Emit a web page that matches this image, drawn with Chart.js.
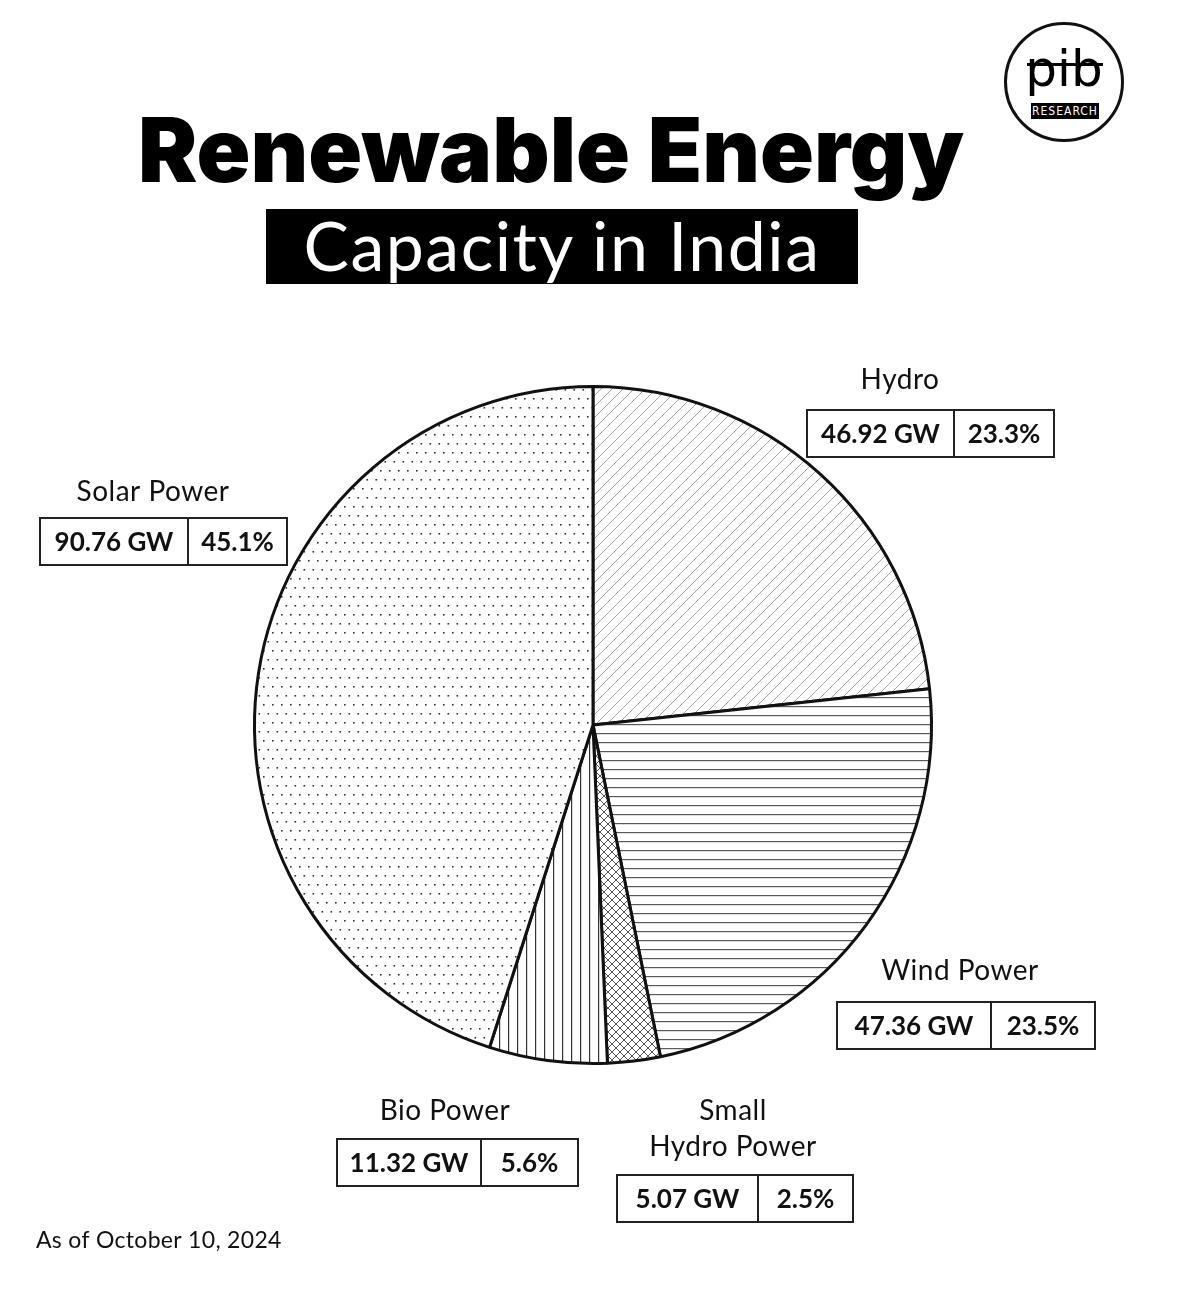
<!DOCTYPE html>
<html>
<head>
<meta charset="utf-8">
<script src="https://cdn.jsdelivr.net/npm/chart.js@4"></script>
<style>
  html,body{margin:0;padding:0;background:#fff;}
  body{width:1199px;height:1312px;position:relative;overflow:hidden;font-family:Lato,"Open Sans",sans-serif;}
  #c{position:absolute;left:0;top:0;}
  .title{position:absolute;left:100px;width:902px;top:100px;text-align:center;font-family:Inter,"Liberation Sans",sans-serif;font-weight:900;font-size:89px;line-height:100px;letter-spacing:0px;color:#000;white-space:nowrap;}
  .sub{position:absolute;left:266px;top:209px;width:592px;height:75px;background:#000;color:#fff;text-align:center;font-family:Lato,"Open Sans",sans-serif;font-size:68px;line-height:72px;letter-spacing:1.5px;white-space:nowrap;}
  .logo{position:absolute;left:1004px;top:22px;width:114px;height:114px;border:3px solid #111;border-radius:50%;}
  .logo .pib{position:absolute;left:0;width:114px;top:16px;text-align:center;font-family:"DejaVu Sans",sans-serif;font-size:50px;line-height:56px;color:#000;}
  .logo .bar{position:absolute;left:20px;top:38px;width:76px;height:3px;background:#000;}
  .logo .res{position:absolute;left:24px;top:78px;width:68px;height:16px;background:#000;color:#fff;font-family:"Liberation Sans Narrow","DejaVu Sans Condensed",sans-serif;font-size:12px;line-height:16px;text-align:center;letter-spacing:1px;}
</style>
</head>
<body>
<div class="title">Renewable Energy</div>
<div class="sub">Capacity in India</div>
<div class="logo"><div class="pib">pib</div><div class="bar"></div><div class="res">RESEARCH</div></div>
<canvas id="c" width="1199" height="1312"></canvas>
<script>
// ---- data ----
const categories = ['Hydro', 'Wind Power', 'Small Hydro Power', 'Bio Power', 'Solar Power'];
const categoryLines = [['Hydro'], ['Wind Power'], ['Small', 'Hydro Power'], ['Bio Power'], ['Solar Power']];
const capacityGW = [46.92, 47.36, 5.07, 11.32, 90.76];
const shareLabels = ['23.3%', '23.5%', '2.5%', '5.6%', '45.1%'];
const footnote = 'As of October 10, 2024';

// ---- label layout (positions of annotation boxes) ----
const labelLayout = [
  {x: 807, y: 410, w: 247, split: 147, textX: 900, textY: 380},
  {x: 837, y: 1002, w: 258, split: 154, textX: 960, textY: 971},
  {x: 617, y: 1175, w: 236, split: 141, textX: 733, textY: 1111},
  {x: 337, y: 1139, w: 241, split: 144, textX: 445, textY: 1111},
  {x: 40, y: 518, w: 247, split: 148, textX: 153, textY: 492}
];

// ---- patterns ----
function makePattern(size, draw) {
  const c = document.createElement('canvas');
  c.width = size; c.height = size;
  const g = c.getContext('2d');
  g.fillStyle = '#fff'; g.fillRect(0, 0, size, size);
  draw(g, size);
  return g.createPattern(c, 'repeat');
}
const ctx = document.getElementById('c').getContext('2d');
const patDiag = makePattern(11, (g, s) => {
  g.strokeStyle = '#a5a5a5'; g.lineWidth = 1;
  g.beginPath();
  g.moveTo(-1, s + 1); g.lineTo(s + 1, -1);
  g.moveTo(-1, 1); g.lineTo(1, -1);
  g.moveTo(s - 1, s + 1); g.lineTo(s + 1, s - 1);
  g.stroke();
});
const patHoriz = makePattern(9, (g, s) => {
  g.fillStyle = '#5a5a5a'; g.fillRect(0, 4, s, 1.2);
});
const patCross = makePattern(8, (g, s) => {
  g.strokeStyle = '#555'; g.lineWidth = 1;
  g.beginPath();
  g.moveTo(-1, s + 1); g.lineTo(s + 1, -1);
  g.moveTo(-1, -1); g.lineTo(s + 1, s + 1);
  g.stroke();
});
const patVert = makePattern(9, (g, s) => {
  g.fillStyle = '#333'; g.fillRect(4, 0, 1.2, s);
});
const patDots = makePattern(18, (g, s) => {
  g.fillStyle = '#333';
  g.fillRect(2, 2, 1.6, 1.6);
  g.fillRect(11, 2, 1.6, 1.6);
  g.fillRect(6.5, 11, 1.6, 1.6);
  g.fillRect(15.5, 11, 1.6, 1.6);
});
const patterns = [patDiag, patHoriz, patCross, patVert, patDots];

// ---- annotation plugin ----
const annotations = {
  id: 'annotations',
  afterDraw(chart) {
    const c = chart.ctx;
    c.save();
    c.fillStyle = '#111';
    c.strokeStyle = '#222';
    categories.forEach((cat, i) => {
      const L = labelLayout[i];
      c.font = '400 28px Lato, "Open Sans", sans-serif';
      c.letterSpacing = '0.5px';
      c.textAlign = 'center';
      c.textBaseline = 'middle';
      categoryLines[i].forEach((line, k) => {
        c.fillText(line, L.textX, L.textY + k * 36);
      });
      const h = 47;
      c.lineWidth = 2;
      c.strokeRect(L.x, L.y, L.w, h);
      c.beginPath();
      c.moveTo(L.x + L.split, L.y); c.lineTo(L.x + L.split, L.y + h);
      c.stroke();
      c.font = '700 26px Lato, "Open Sans", sans-serif';
      c.letterSpacing = '0px';
      c.fillText(capacityGW[i].toFixed(2) + ' GW', L.x + L.split / 2, L.y + h / 2 + 1);
      c.fillText(shareLabels[i], L.x + L.split + (L.w - L.split) / 2, L.y + h / 2 + 1);
    });
    c.font = '400 23px Lato, "Open Sans", sans-serif';
    c.letterSpacing = '0.3px';
    c.textAlign = 'left';
    c.fillText(footnote, 36, 1241);
    c.restore();
  }
};

new Chart(ctx, {
  type: 'pie',
  data: {
    labels: categories,
    datasets: [{
      data: capacityGW,
      backgroundColor: patterns,
      borderColor: '#111',
      borderWidth: 3,
      hoverOffset: 0
    }]
  },
  options: {
    responsive: false,
    animation: false,
    layout: {padding: {left: 253, right: 266, top: 385, bottom: 247}},
    plugins: {legend: {display: false}, tooltip: {enabled: false}}
  },
  plugins: [annotations]
});
</script>
</body>
</html>
